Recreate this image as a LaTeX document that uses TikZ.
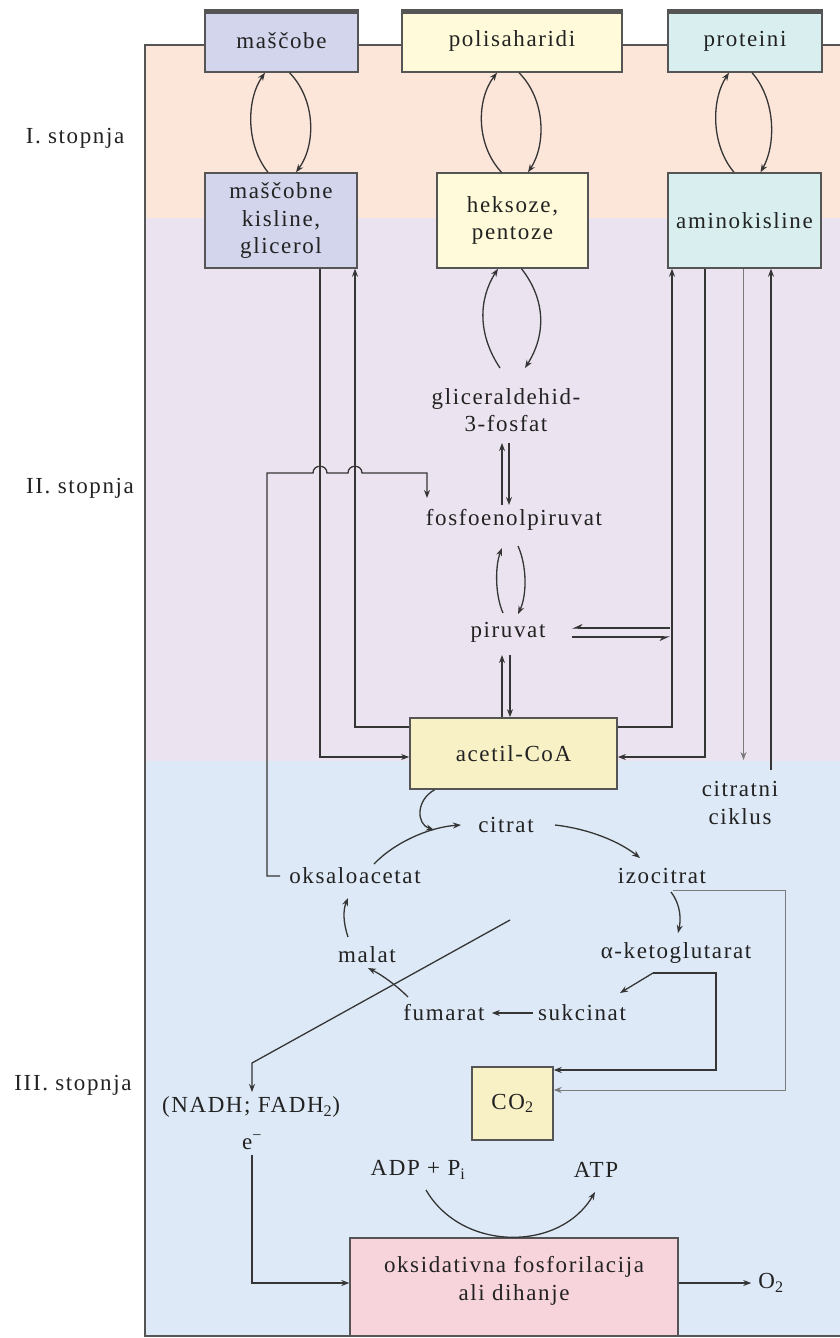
\documentclass[tikz,border=0pt]{standalone}
\usepackage{fontspec}
\setmainfont{Liberation Serif}[LetterSpace=7]
\usetikzlibrary{arrows.meta}
\definecolor{bandO}{HTML}{FCE6D9}
\definecolor{bandL}{HTML}{EBE4F0}
\definecolor{bandB}{HTML}{DDE9F6}
\definecolor{cBlue}{HTML}{D3D5EC}
\definecolor{cYel}{HTML}{FFFAD9}
\definecolor{cCyan}{HTML}{D9EFEF}
\definecolor{cTan}{HTML}{F8F1C6}
\definecolor{cPink}{HTML}{F7D4DC}
\definecolor{lncol}{HTML}{353535}
\definecolor{boxline}{HTML}{555555}
\definecolor{txt}{HTML}{222222}
\definecolor{lightln}{HTML}{7A7A7A}
\tikzset{
  box/.style={draw=boxline, line width=1.4pt, align=center, inner sep=2pt, text=txt},
  lbl/.style={align=center, inner sep=1pt, text=txt},
  lnst/.style={draw=lncol, line width=1.3pt},
  arr/.style={lnst, -{Stealth[length=8pt,width=6pt]}},
  harp/.style={lnst, -{Stealth[harpoon,swap,length=9pt,width=8pt]}},
  arrthin/.style={draw=lightln, line width=1pt, -{Stealth[length=8pt,width=6pt]}},
  topbar/.style={line width=4.5pt, draw=boxline},
  framest/.style={draw=boxline, line width=1.5pt},
}
\begin{document}
\begin{tikzpicture}[x=1pt,y=-1pt,font=\fontsize{23}{27.5}\selectfont]
\useasboundingbox (0,0) rectangle (840,1338);
\fill[white] (0,0) rectangle (840,1338);
\fill[bandO] (145,45) rectangle (840,218);
\fill[bandL] (145,218) rectangle (840,761);
\fill[bandB] (145,761) rectangle (840,1336);
\draw[framest] (840,45) -- (145,45) -- (145,1336) -- (840,1336);

% stage labels
\node[lbl] (s1) at (75,138) {I. stopnja};
\node[lbl] (s2) at (80,488) {II. stopnja};
\node[lbl] (s3) at (73,1085) {III. stopnja};

% top boxes
\node[box, fill=cBlue, minimum width=153, minimum height=62] (masc) at (281.5,41) {maščobe};
\node[box, fill=cYel, minimum width=220, minimum height=62] (poli) at (512,41) {polisaharidi};
\node[box, fill=cCyan, minimum width=154, minimum height=62] (prot) at (745,41) {proteini};
\foreach \b in {masc,poli,prot}{
  \draw[topbar] ([yshift=-2pt]\b.north west) -- ([yshift=-2pt]\b.north east);
}
\node[box, fill=cBlue, minimum width=152, minimum height=95] (mk) at (281,220.5) {maščobne\\kisline,\\glicerol};
\node[box, fill=cYel, minimum width=151, minimum height=95] (hek) at (512.5,220.5) {heksoze,\\pentoze};
\node[box, fill=cCyan, minimum width=153, minimum height=95, inner sep=0pt] (amk) at (744.5,220.5) {aminokisline};

\node[box, fill=cTan, minimum width=207, minimum height=71, line width=1.7pt] (acet) at (513.5,753.5) {acetil-CoA};
\node[box, fill=cTan, minimum width=81, minimum height=73] (co2) at (512.5,1103.5) {CO\textsubscript{2}};
\node[box, fill=cPink, minimum width=328, minimum height=98] (oks) at (514,1287) {};
\node[lbl] (okst) at (514,1281) {oksidativna fosforilacija\\ali dihanje};

% text nodes
\node[lbl] (glic) at (506,410) {gliceraldehid-\\3-fosfat};
\node[lbl] (fosf) at (514,520) {fosfoenolpiruvat};
\node[lbl] (piru) at (508,632) {piruvat};
\node[lbl] (cikl) at (740,803) {citratni\\ciklus};
\node[lbl] (citr) at (506,825) {citrat};
\node[lbl] (izoc) at (662,876) {izocitrat};
\node[lbl] (akg) at (676,953) {α-ketoglutarat};
\node[lbl] (sukc) at (582,1013) {sukcinat};
\node[lbl] (fuma) at (444,1013) {fumarat};
\node[lbl] (mala) at (367,955) {malat};
\node[lbl] (oksa) at (355,876) {oksaloacetat};
\node[lbl] (nadh) at (251,1107) {(NADH; FADH\textsubscript{2})};
\node[lbl] (elec) at (252,1142) {e\textsuperscript{−}};
\node[lbl] (adp) at (418,1170) {ADP + P\textsubscript{i}};
\node[lbl] (atp) at (596,1170) {ATP};
\node[lbl] (o2) at (771,1283) {O\textsubscript{2}};

% free-end coordinates
\coordinate (g1) at (500,368);
\coordinate (g2) at (525,368);
\coordinate (gf1) at (502,505);
\coordinate (gf2) at (502,443);
\coordinate (gf3) at (509,443);
\coordinate (gf4) at (509,505);
\coordinate (fp1) at (503,613);
\coordinate (fp2) at (502,548);
\coordinate (fp3) at (518,546);
\coordinate (fp4) at (518,614);
\coordinate (pa1) at (502,655);
\coordinate (pa2) at (510,655);
\coordinate (pr1) at (670,628);
\coordinate (pr2) at (572,628);
\coordinate (pr3) at (572,637);
\coordinate (pr4) at (670,637);
\coordinate (ck1) at (743.5,760);
\coordinate (ck2) at (771,770);
\coordinate (ak) at (653,973);
\coordinate (iz) at (673,890);
\coordinate (dg) at (510,920);

% top interconversions
\draw[arr] ([xshift=-13]mk.north) .. controls (246,145) and (246,100) .. ([xshift=-16.5]masc.south);
\draw[arr] ([xshift=8]masc.south) .. controls (316,100) and (316,145) .. ([xshift=15]mk.north);
\draw[arr] ([xshift=-11]hek.north) .. controls (476,145) and (476,100) .. ([xshift=-15]poli.south);
\draw[arr] ([xshift=7]poli.south) .. controls (546,100) and (546,145) .. ([xshift=15.5]hek.north);
\draw[arr] ([xshift=-10.5]amk.north) .. controls (711,145) and (711,100) .. ([xshift=-16]prot.south);
\draw[arr] ([xshift=7]prot.south) .. controls (776,100) and (776,145) .. ([xshift=16]amk.north);

% glycolysis
\draw[arr] (g1) .. controls (478,335) and (478,300) .. ([xshift=-14.5]hek.south);
\draw[arr] ([xshift=9]hek.south) .. controls (546,300) and (546,335) .. (g2);
\draw[arr] (gf1) -- (gf2);
\draw[arr] (gf3) -- (gf4);
\draw[arr] (fp1) .. controls (495,595) and (495,566) .. (fp2);
\draw[arr] (fp3) .. controls (527,566) and (527,595) .. (fp4);
\draw[arr] ([xshift=-11.5]acet.north) -- (pa1);
\draw[arr] (pa2) -- ([xshift=-3.5]acet.north);
\draw[harp] (pr1) -- (pr2);
\draw[harp] (pr3) -- (pr4);

% box links
\draw[arr] ([xshift=39]mk.south) |- ([yshift=-3.5]acet.west);
\draw[arr] ([yshift=26.5]acet.west) -| ([xshift=74]mk.south);
\draw[arr] ([yshift=26.5]acet.east) -| ([xshift=-72.5]amk.south);
\draw[arr] ([xshift=-39.5]amk.south) |- ([yshift=-3.5]acet.east);
\draw[arrthin] ([xshift=-1]amk.south) -- (ck1);
\draw[arr] (ck2) -- ([xshift=26.5]amk.south);

% oksaloacetat -> fosfoenolpiruvat with hops
\draw[arr] ([xshift=-8]oksa.west) -- (267,876) -- (267,473) -- (313,473)
  .. controls (313,464) and (327,464) .. (327,473) -- (348,473)
  .. controls (348,464) and (362,464) .. (362,473) -- (427,473) -- (427,498);

% citric acid cycle
\draw[arr] ([xshift=-79]acet.south) .. controls (416,800) and (416,824) .. (434,830);
\draw[arr] (374,864) .. controls (395,842) and (430,827) .. (461,825);
\draw[arr] (555,825) .. controls (590,829) and (620,842) .. (640,858);
\draw[arr] (671,892) .. controls (681,905) and (681,920) .. (678,933);
\draw[arr] (ak) -- (620,993);
\draw[arr] (ak) -- (716,973) -- (716,1070) -- ([yshift=33.5]co2.east);
\draw[arrthin] (iz) -- (785,890) -- (785,1090) -- ([yshift=13.5]co2.east);
\draw[arr] ([xshift=-4]sukc.west) -- ([xshift=6]fuma.east);
\draw[arr] (408,997) .. controls (396,985) and (382,975) .. (368,968);
\draw[arr] (348,937) .. controls (343,922) and (343,910) .. (348,898);
\draw[arr] (dg) -- (252,1063) -- (252,1092);

% oxidative phosphorylation
\draw[arr] ([yshift=-4]elec.south) |- ([yshift=4]oks.west);
\draw[arr] (426,1190) .. controls (462,1252) and (560,1252) .. (595,1192);
\draw[arr] (oks.east |- o2.west) -- ([xshift=-6]o2.west);
\end{tikzpicture}
\end{document}
